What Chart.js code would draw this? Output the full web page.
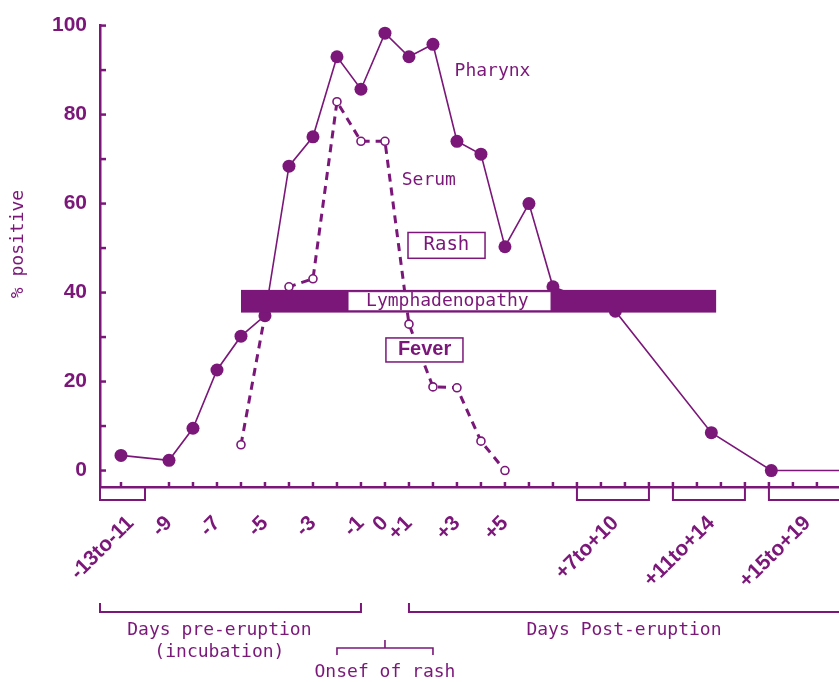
<!DOCTYPE html>
<html>
<head>
<meta charset="utf-8">
<script src="https://cdn.jsdelivr.net/npm/chart.js@4.4.1/dist/chart.umd.min.js"></script>
<style>
  html, body { margin: 0; padding: 0; background: #fff; }
  #wrap { width: 839px; height: 682px; }
</style>
</head>
<body>
<div id="wrap"><canvas id="chart"></canvas></div>
<script>
// Pharynx (filled circles), day of eruption vs % positive
const pharynxDays = [-11, -9, -8, -7, -6, -5, -4, -3, -2, -1, 0, 1, 2, 3, 4, 5, 6, 7, 9.6, 13.6, 16.1, 20];
const pharynxPct = [3.4, 2.3, 9.5, 22.6, 30.2, 34.8, 68.4, 75, 93, 85.7, 98.3, 93, 95.8, 74, 71.1, 50.3, 60, 41.3, 35.8, 8.5, 0, 0];

// Serum (open circles, dashed)
const serumDays = [-6, -5, -4, -3, -2, -1, 0, 1, 2, 3, 4, 5];
const serumPct = [5.8, 35, 41.3, 43.1, 82.9, 74, 74, 32.9, 18.8, 18.6, 6.6, 0];

// x tick labels and where they sit on the day axis
const tickDays = [-10.6, -9, -7, -5, -3, -1, 0, 1, 3, 5, 9.6, 13.6, 17.6];
const tickLabels = ['-13to-11', '-9', '-7', '-5', '-3', '-1', '0', '+1', '+3', '+5', '+7to+10', '+11to+14', '+15to+19'];
const yTicks = [0, 20, 40, 60, 80, 100];

// small tick marks along the axes
const dayMarks = [-11, -9, -8, -7, -6, -5, -4, -3, -2, -1, 0, 1, 2, 3, 4, 5, 6, 7, 8, 9, 10, 11, 12, 13, 14, 15, 16, 17, 18];
const pctMarks = [0, 10, 20, 30, 40, 50, 60, 70, 80, 90, 100];

const purple = '#7a1779';
const mono = '"DejaVu Sans Mono", monospace';
const sans = '"Liberation Sans", Arial, sans-serif';

function textAt(ctx, str, px, py, font, align) {
    ctx.font = font;
    ctx.textAlign = align || 'center';
    ctx.textBaseline = 'middle';
    ctx.fillStyle = purple;
    ctx.fillText(str, px, py);
}

function rectAt(ctx, x1, y1, x2, y2, fill, lw) {
    ctx.fillStyle = fill;
    ctx.fillRect(x1, y1, x2 - x1, y2 - y1);
    if (lw) {
        ctx.lineWidth = lw;
        ctx.strokeStyle = purple;
        ctx.strokeRect(x1, y1, x2 - x1, y2 - y1);
    }
}

function line(ctx, pts, lw) {
    ctx.beginPath();
    ctx.moveTo(pts[0][0], pts[0][1]);
    for (let i = 1; i < pts.length; i++) ctx.lineTo(pts[i][0], pts[i][1]);
    ctx.lineWidth = lw;
    ctx.strokeStyle = purple;
    ctx.stroke();
}

// Boxes, labels, brackets and inward tick marks
const annotations = {
    id: 'annotations',
    afterDatasetsDraw(chart) {
        const { ctx, scales: { x, y } } = chart;
        ctx.save();

        // Lymphadenopathy bar
        rectAt(ctx, x.getPixelForValue(-6), y.getPixelForValue(40.6), x.getPixelForValue(13.8), y.getPixelForValue(35.5), purple, 0);
        rectAt(ctx, x.getPixelForValue(-1.54), y.getPixelForValue(40.2), x.getPixelForValue(6.92), y.getPixelForValue(35.9), '#fff', 1);
        textAt(ctx, 'Lymphadenopathy', x.getPixelForValue(2.6), y.getPixelForValue(38.1), '18px ' + mono);

        // Rash / Fever boxes
        rectAt(ctx, x.getPixelForValue(0.96), y.getPixelForValue(53.5), x.getPixelForValue(4.17), y.getPixelForValue(47.7), '#fff', 1.5);
        textAt(ctx, 'Rash', x.getPixelForValue(2.56), y.getPixelForValue(50.6), '19px ' + mono);
        rectAt(ctx, x.getPixelForValue(0.04), y.getPixelForValue(29.8), x.getPixelForValue(3.25), y.getPixelForValue(24.4), '#fff', 1.5);
        textAt(ctx, 'Fever', x.getPixelForValue(1.65), y.getPixelForValue(27.1), 'bold 20px ' + sans);

        // series labels
        textAt(ctx, 'Pharynx', x.getPixelForValue(2.9), y.getPixelForValue(89.8), '18px ' + mono, 'left');
        textAt(ctx, 'Serum', x.getPixelForValue(0.7), y.getPixelForValue(65.3), '18px ' + mono, 'left');

        ctx.restore();
    },
    afterDraw(chart) {
        const { ctx, chartArea: area, scales: { x, y } } = chart;
        ctx.save();

        // inward tick marks
        pctMarks.forEach(v => {
            const py = y.getPixelForValue(v);
            line(ctx, [[area.left, py], [area.left + 6, py]], 2.5);
        });
        dayMarks.forEach(d => {
            const px = x.getPixelForValue(d);
            line(ctx, [[px, area.bottom], [px, area.bottom - 5]], 2.5);
        });

        // y axis title
        ctx.save();
        ctx.translate(18, 244);
        ctx.rotate(-Math.PI / 2);
        textAt(ctx, '% positive', 0, 0, '18px ' + mono);
        ctx.restore();

        // brackets just under the axis
        const b = area.bottom;
        [[x.min, -10], [8, 11], [12, 15], [16, x.max + 2]].forEach(([a, c]) => {
            const xa = x.getPixelForValue(a), xc = x.getPixelForValue(c);
            line(ctx, [[xa, b + 1], [xa, b + 13], [xc, b + 13], [xc, b + 1]], 2);
        });

        // period brackets
        [[x.min, -1], [1, x.max + 2]].forEach(([a, c]) => {
            const xa = x.getPixelForValue(a), xc = x.getPixelForValue(c);
            line(ctx, [[xa, b + 116], [xa, b + 125], [xc, b + 125], [xc, b + 116]], 2);
        });
        const o1 = x.getPixelForValue(-2), o2 = x.getPixelForValue(2), o0 = x.getPixelForValue(0);
        line(ctx, [[o1, b + 168], [o1, b + 161], [o2, b + 161], [o2, b + 168]], 1.6);
        line(ctx, [[o0, b + 161], [o0, b + 153]], 1.6);

        textAt(ctx, 'Days pre-eruption', x.getPixelForValue(-6.9), b + 143, '18px ' + mono);
        textAt(ctx, '(incubation)', x.getPixelForValue(-6.9), b + 165, '18px ' + mono);
        textAt(ctx, 'Days Post-eruption', x.getPixelForValue(9.96), b + 143, '18px ' + mono);
        textAt(ctx, 'Onsef of rash', x.getPixelForValue(0), b + 185, '18px ' + mono);

        ctx.restore();
    }
};

new Chart(document.getElementById('chart'), {
    type: 'line',
    data: {
        datasets: [
            {
                label: 'Pharynx',
                data: pharynxDays.map((d, i) => ({ x: d, y: pharynxPct[i] })),
                borderColor: purple,
                borderWidth: 1.6,
                pointRadius: 6.5,
                pointBackgroundColor: purple,
                pointBorderColor: purple,
                pointBorderWidth: 0,
                tension: 0
            },
            {
                label: 'Serum',
                data: serumDays.map((d, i) => ({ x: d, y: serumPct[i] })),
                borderColor: purple,
                borderWidth: 3,
                borderDash: [8, 6],
                pointRadius: 4,
                pointBackgroundColor: '#fff',
                pointBorderColor: purple,
                pointBorderWidth: 1.6,
                tension: 0
            }
        ]
    },
    options: {
        responsive: true,
        maintainAspectRatio: false,
        animation: false,
        devicePixelRatio: 1,
        layout: { autoPadding: false, padding: { top: 22, left: 0, right: 0, bottom: 0 } },
        plugins: {
            legend: { display: false },
            tooltip: { enabled: false }
        },
        scales: {
            x: {
                type: 'linear',
                min: -11.875,
                max: 18.92,
                afterBuildTicks: s => { s.ticks = tickDays.map(v => ({ value: v })); },
                afterFit: s => { s.height = 195; s.paddingLeft = 0; s.paddingRight = 0; },
                grid: { drawOnChartArea: false, drawTicks: false },
                border: { color: purple, width: 2.5 },
                ticks: {
                    autoSkip: false,
                    minRotation: 45,
                    maxRotation: 45,
                    padding: 24,
                    color: purple,
                    font: { family: sans, size: 21, weight: 'bold' },
                    callback: (v, i) => tickLabels[i]
                }
            },
            y: {
                min: -3.7,
                max: 100,
                afterBuildTicks: s => { s.ticks = yTicks.map(v => ({ value: v })); },
                afterFit: s => { s.width = 100; },
                grid: { drawOnChartArea: false, drawTicks: false },
                border: { color: purple, width: 2.5 },
                ticks: {
                    padding: 13,
                    color: purple,
                    font: { family: sans, size: 21, weight: 'bold' },
                    callback: v => String(v)
                }
            }
        }
    },
    plugins: [annotations]
});
</script>
</body>
</html>
